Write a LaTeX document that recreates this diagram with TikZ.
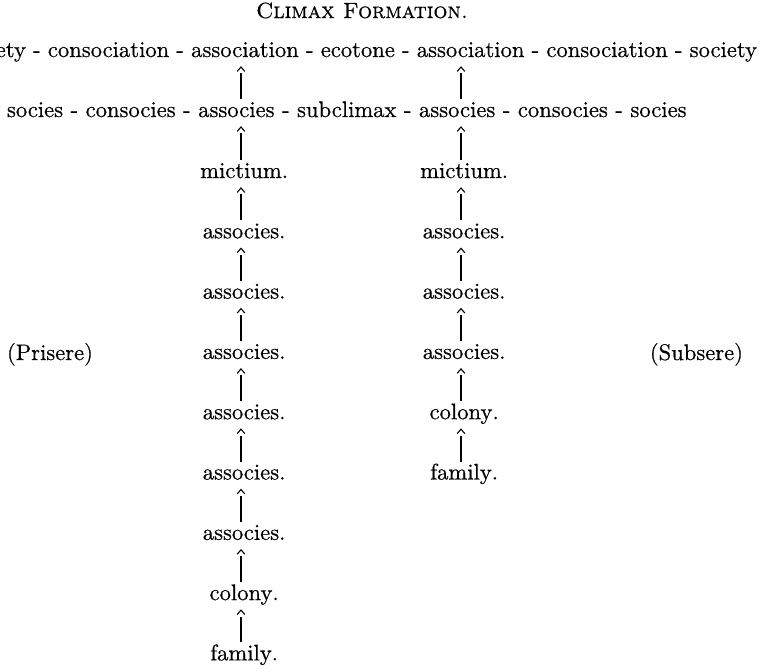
\documentclass[tikz,border=0pt]{standalone}
\usepackage{fontspec}
\setmainfont{lmroman10-regular.otf}[FakeBold=0.5,
  SmallCapsFont=lmromancaps10-regular.otf,
  SmallCapsFeatures={FakeBold=0.5}]
\usetikzlibrary{calc}
\newcommand\riser[3]{%
  \draw[shaft] ($(#1.base -| #3)+(0,9pt)$) -- ($(#2.base -| #3)+(0,-8.2pt)$);
  \draw[caret] ($(#2.base -| #3)+(-1.9pt,-7.2pt)$) -- ($(#2.base -| #3)+(0,-5pt)$) -- ($(#2.base -| #3)+(1.9pt,-7.2pt)$);
}
\newcommand\sepa{\kern0.32em-\kern0.32em}
\newcommand\sepb{\kern0.333em-\kern0.333em}
\begin{document}
\begin{tikzpicture}[x=0.5pt,y=-0.5pt,
  font=\fontsize{11.3}{13.6}\selectfont,
  wd/.style={inner sep=0pt, outer sep=0pt},
  wl/.style={wd, anchor=base east},
  wr/.style={wd, anchor=base west},
  cn/.style={wd, anchor=base},
  shaft/.style={line width=0.85pt},
  caret/.style={line width=0.55pt, line join=miter}]
\useasboundingbox (0,0) rectangle (760,671);
\clip (0,0) rectangle (760,671);

% title
\node[cn, font=\fontsize{11}{13}\selectfont\scshape] (title) at (362,18) {Climax Formation.};

% row 1 (right to left)
\node[wl] (r1g) at (757,57) {society};
\node[wl] (s1f) at (r1g.base west) {\sepa};
\node[wl] (r1f) at (s1f.base west) {consociation};
\node[wl] (s1e) at (r1f.base west) {\sepa};
\node[wl] (r1e) at (s1e.base west) {association};
\node[wl] (s1d) at (r1e.base west) {\sepa};
\node[wl] (r1d) at (s1d.base west) {ecotone};
\node[wl] (s1c) at (r1d.base west) {\sepa};
\node[wl] (r1c) at (s1c.base west) {association};
\node[wl] (s1b) at (r1c.base west) {\sepa};
\node[wl] (r1b) at (s1b.base west) {consociation};
\node[wl] (s1a) at (r1b.base west) {\sepa};
\node[wl] (r1a) at (s1a.base west) {society};

% row 2 (left to right)
\node[wr] (r2a) at (7,117) {socies};
\node[wr] (s2a) at (r2a.base east) {\sepb};
\node[wr] (r2b) at (s2a.base east) {consocies};
\node[wr] (s2b) at (r2b.base east) {\sepb};
\node[wr] (r2c) at (s2b.base east) {associes};
\node[wr] (s2c) at (r2c.base east) {\sepb};
\node[wr] (r2d) at (s2c.base east) {subclimax};
\node[wr] (s2d) at (r2d.base east) {\sepb};
\node[wr] (r2e) at (s2d.base east) {associes};
\node[wr] (s2e) at (r2e.base east) {\sepb};
\node[wr] (r2f) at (s2e.base east) {consocies};
\node[wr] (s2f) at (r2f.base east) {\sepb};
\node[wr] (r2g) at (s2f.base east) {socies};

% columns
\coordinate (colL) at (241,0);
\coordinate (colR) at (461,0);

\node[cn] (L1) at (241,178.0) {mictium\rlap{.}};
\node[cn] (L2) at (241,238.3) {associes\rlap{.}};
\node[cn] (L3) at (241,298.6) {associes\rlap{.}};
\node[cn] (L4) at (241,358.9) {associes\rlap{.}};
\node[cn] (L5) at (241,419.2) {associes\rlap{.}};
\node[cn] (L6) at (241,479.5) {associes\rlap{.}};
\node[cn] (L7) at (241,539.8) {associes\rlap{.}};
\node[cn] (L8) at (241,600.1) {colony\rlap{.}};
\node[cn] (L9) at (241,660.4) {family\rlap{.}};

\node[cn] (R1) at (461,178.0) {mictium\rlap{.}};
\node[cn] (R2) at (461,238.3) {associes\rlap{.}};
\node[cn] (R3) at (461,298.6) {associes\rlap{.}};
\node[cn] (R4) at (461,358.9) {associes\rlap{.}};
\node[cn] (R5) at (461,419.2) {colony\rlap{.}};
\node[cn] (R6) at (461,479.5) {family\rlap{.}};

\node[wr] (pri) at (7,360) {(Prisere)};
\node[wl] (sub) at (743,360) {(Subsere)};

% connectors
\riser{r2c}{r1c}{colL}
\riser{L1}{r2c}{colL}
\riser{L2}{L1}{colL}
\riser{L3}{L2}{colL}
\riser{L4}{L3}{colL}
\riser{L5}{L4}{colL}
\riser{L6}{L5}{colL}
\riser{L7}{L6}{colL}
\riser{L8}{L7}{colL}
\riser{L9}{L8}{colL}

\riser{r2e}{r1e}{colR}
\riser{R1}{r2e}{colR}
\riser{R2}{R1}{colR}
\riser{R3}{R2}{colR}
\riser{R4}{R3}{colR}
\riser{R5}{R4}{colR}
\riser{R6}{R5}{colR}
\end{tikzpicture}
\end{document}
